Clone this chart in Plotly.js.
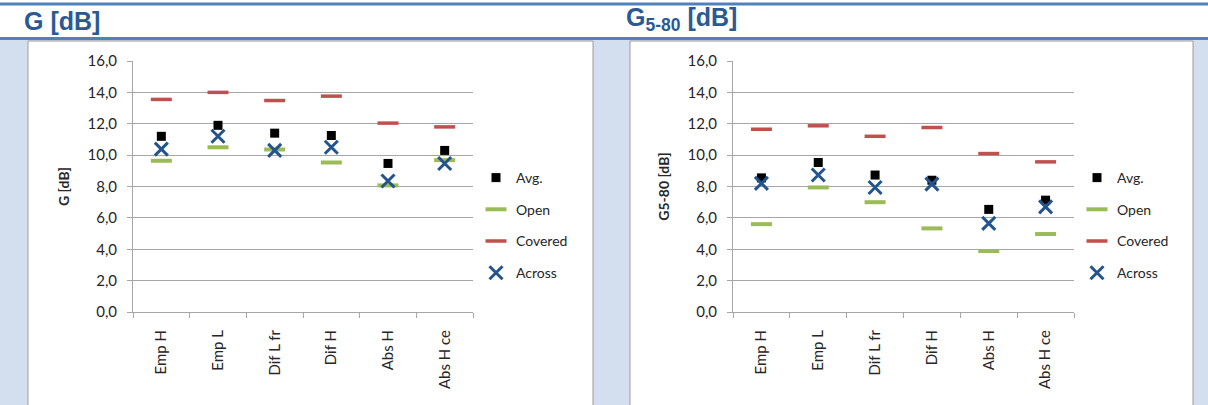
<!DOCTYPE html>
<html>
<head>
<meta charset="utf-8">
<script src="https://cdn.plot.ly/plotly-3.0.1.min.js"></script>
<style>html,body{margin:0;padding:0;background:#fff;}#chart{width:1208px;height:405px;}</style>
</head>
<body>
<div id="chart"></div>
<script>
// ---- data ----
const categories = ["Emp H", "Emp L", "Dif L fr", "Dif H", "Abs H", "Abs H ce"];
const seriesNames = ["Avg.", "Open", "Covered", "Across"];
// G [dB]
const gAvg     = [11.2, 11.9, 11.4, 11.25, 9.47, 10.3];
const gOpen    = [9.64, 10.5, 10.36, 9.53, 8.07, 9.68];
const gCovered = [13.55, 14.0, 13.48, 13.76, 12.04, 11.8];
const gAcross  = [10.38, 11.2, 10.3, 10.5, 8.35, 9.47];
// G5-80 [dB]
const g580Avg     = [8.55, 9.53, 8.73, 8.4, 6.54, 7.13];
const g580Open    = [5.6, 7.94, 7.0, 5.33, 3.89, 4.97];
const g580Covered = [11.65, 11.87, 11.2, 11.76, 10.1, 9.57];
const g580Across  = [8.2, 8.73, 7.94, 8.15, 5.65, 6.7];
const yTicks = [0, 2, 4, 6, 8, 10, 12, 14, 16];

// ---- styling ----
const W = 1208, H = 405;
const px = v => v / W;
const py = v => 1 - v / H;
const FONT = "Lato, 'Open Sans', sans-serif";
const styles = [
  {symbol: "square", size: 9, color: "#000000", line: {width: 0}},
  {symbol: "line-ew", size: 15, color: "#9BBB59", line: {width: 4, color: "#9BBB59"}},
  {symbol: "line-ew", size: 15, color: "#C0504D", line: {width: 3.5, color: "#C0504D"}},
  {symbol: "x-thin", size: 13, color: "#24548E", line: {width: 3, color: "#24548E"}}
];

function makeTraces(seriesArr, xa, ya, legendId) {
  return seriesArr.map((vals, i) => ({
    type: "scatter", mode: "markers",
    x: categories, y: vals,
    name: seriesNames[i],
    xaxis: xa, yaxis: ya,
    legend: legendId,
    legendgroup: legendId + "_" + i,
    marker: styles[i],
    hoverinfo: "x+y+name"
  }));
}

const traces = [
  ...makeTraces([gAvg, gOpen, gCovered, gAcross], "x", "y", "legend"),
  ...makeTraces([g580Avg, g580Open, g580Covered, g580Across], "x2", "y2", "legend2")
];

const gridColor = "#A6A6A6";
function xAxis(domain) {
  return {
    domain: domain, type: "category", range: [-0.5, 5.5],
    showgrid: false, showline: true, linecolor: gridColor, linewidth: 1,
    ticks: "outside", tickson: "boundaries", ticklen: 5, tickcolor: gridColor,
    ticklabelstandoff: 11,
    tickangle: -90, tickfont: {family: FONT, size: 15, color: "#262626"},
    zeroline: false, fixedrange: true
  };
}
function yAxis(title, anchor) {
  return {
    domain: [py(312), py(61)], range: [0, 16], anchor: anchor,
    tickvals: yTicks, tickformat: ".1f",
    showgrid: true, gridcolor: gridColor, gridwidth: 1,
    showline: true, linecolor: gridColor, linewidth: 1,
    ticks: "outside", ticklen: 5, tickcolor: gridColor,
    ticklabelstandoff: 7,
    tickfont: {family: FONT, size: 15, color: "#262626"},
    zeroline: false, fixedrange: true,
    title: {text: title, font: {family: FONT, size: 14, color: "#262626", weight: "bold"}, standoff: 14}
  };
}

const legendBase = {
  orientation: "v", bgcolor: "rgba(0,0,0,0)", borderwidth: 0,
  font: {family: FONT, size: 14, color: "#262626"},
  tracegroupgap: 10.5, itemclick: false, itemdoubleclick: false,
  xanchor: "left", yanchor: "top"
};

const shapes = [
  {type: "rect", xref: "paper", yref: "paper", x0: 0, x1: 1, y0: py(406), y1: py(40), fillcolor: "#D3DFEE", line: {width: 0}, layer: "below"},
  {type: "rect", xref: "paper", yref: "paper", x0: px(28), x1: px(593), y0: py(410), y1: py(41), fillcolor: "#FFFFFF", line: {width: 1, color: "#9C9C9C"}, layer: "below"},
  {type: "rect", xref: "paper", yref: "paper", x0: px(630), x1: px(1193), y0: py(410), y1: py(41), fillcolor: "#FFFFFF", line: {width: 1, color: "#9C9C9C"}, layer: "below"},
  {type: "line", xref: "paper", yref: "paper", x0: 0, x1: 1, y0: py(4), y1: py(4), line: {width: 3, color: "#4F81BD"}, layer: "below"},
  {type: "line", xref: "paper", yref: "paper", x0: 0, x1: 1, y0: py(38.5), y1: py(38.5), line: {width: 3, color: "#4F81BD"}, layer: "below"}
];

const headFont = {family: "Arial, 'Liberation Sans', sans-serif", size: 25, color: "#2A5A94", weight: 700};
const annotations = [
  {text: "<b>G [dB]</b>", xref: "paper", yref: "paper", x: px(22), y: py(37), xanchor: "left", yanchor: "bottom", showarrow: false, font: headFont},
  {text: "<b>G<sub>5-80</sub> [dB]</b>", xref: "paper", yref: "paper", x: px(624), y: py(37), xanchor: "left", yanchor: "bottom", showarrow: false, font: headFont}
];

const layout = {
  width: W, height: H,
  margin: {l: 0, r: 0, t: 0, b: 0, autoexpand: false},
  paper_bgcolor: "#FFFFFF", plot_bgcolor: "rgba(0,0,0,0)",
  separators: ", ",
  showlegend: true,
  xaxis: xAxis([px(133), px(473)]),
  yaxis: yAxis("G [dB]", "x"),
  xaxis2: xAxis([px(733), px(1074)]),
  yaxis2: yAxis("G5-80 [dB]", "x2"),
  legend: Object.assign({}, legendBase, {x: px(476), y: py(162)}),
  legend2: Object.assign({}, legendBase, {x: px(1077), y: py(162)}),
  shapes: shapes,
  annotations: annotations,
  hovermode: "closest"
};

Plotly.newPlot("chart", traces, layout, {displayModeBar: false, staticPlot: false, responsive: false});
</script>
</body>
</html>
